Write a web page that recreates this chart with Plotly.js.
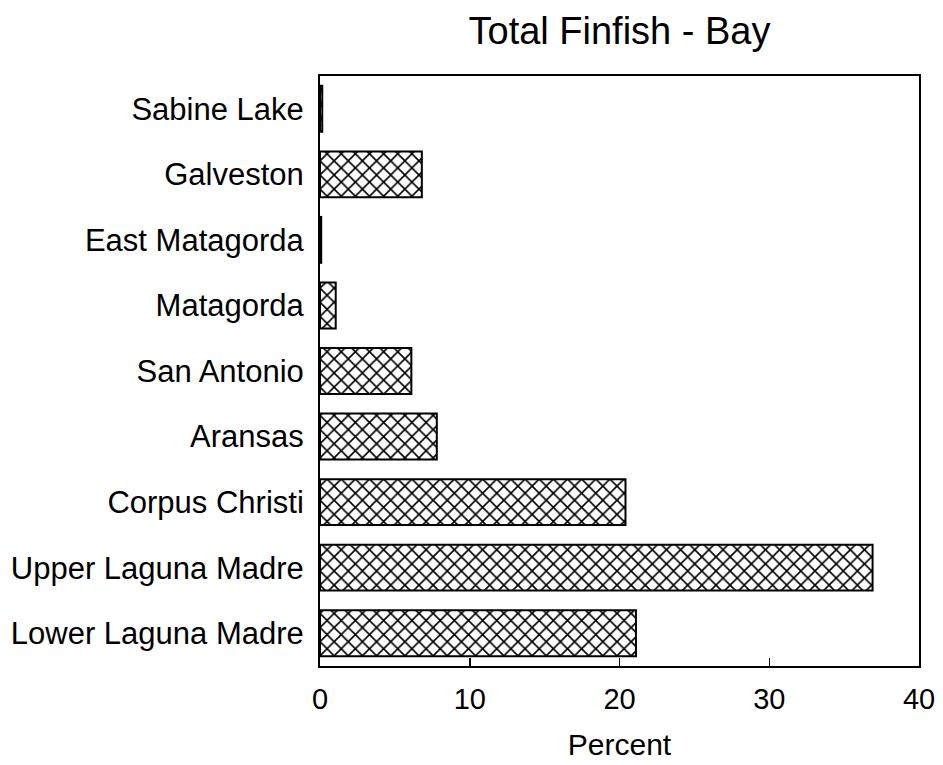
<!DOCTYPE html>
<html>
<head>
<meta charset="utf-8">
<script src="https://cdn.plot.ly/plotly-3.0.1.min.js"></script>
<style>html,body{margin:0;padding:0;background:#fff;}#chart{width:943px;height:765px;}</style>
</head>
<body>
<div id="chart"></div>
<script>
var categories = ["Sabine Lake", "Galveston", "East Matagorda", "Matagorda", "San Antonio", "Aransas", "Corpus Christi", "Upper Laguna Madre", "Lower Laguna Madre"];
var percentValues = [0.15, 6.8, 0.08, 1.05, 6.1, 7.8, 20.4, 36.9, 21.1];
var xTickValues = [0, 10, 20, 30, 40];
var xTickLabels = ["0", "10", "20", "30", "40"];

var FONT = "Liberation Sans, Arial, Helvetica, sans-serif";

var trace = {
  type: "bar",
  orientation: "h",
  y: categories,
  x: percentValues,
  width: 0.7,
  marker: {
    color: "#ffffff",
    line: {color: "#000000", width: 2},
    pattern: {shape: "x", size: 10, solidity: 0.3, fgcolor: "#000000", bgcolor: "#ffffff", fillmode: "replace"}
  },
  hoverinfo: "x+y"
};

var layout = {
  width: 943,
  height: 765,
  paper_bgcolor: "#ffffff",
  plot_bgcolor: "#ffffff",
  margin: {l: 320, r: 24, t: 76, b: 99},
  showlegend: false,
  title: {
    text: "Total Finfish - Bay",
    font: {family: FONT, size: 38, color: "#000"},
    x: 0.5, xref: "paper", xanchor: "center",
    y: 1 - 31 / 765, yref: "container", yanchor: "middle"
  },
  xaxis: {
    range: [0, 40],
    tickmode: "array",
    tickvals: xTickValues,
    ticktext: xTickLabels,
    ticks: "inside",
    ticklen: 8,
    tickwidth: 1.5,
    tickcolor: "#000",
    showline: true,
    linecolor: "#000",
    linewidth: 2,
    mirror: true,
    showgrid: false,
    zeroline: false,
    ticklabelstandoff: 6,
    tickfont: {family: FONT, size: 29, color: "#000"},
    title: {text: "Percent", font: {family: FONT, size: 30, color: "#000"}, standoff: 20}
  },
  yaxis: {
    type: "category",
    autorange: "reversed",
    ticks: "",
    showline: true,
    linecolor: "#000",
    linewidth: 2,
    mirror: true,
    showgrid: false,
    zeroline: false,
    ticklabelstandoff: 8,
    tickfont: {family: FONT, size: 31, color: "#000"}
  }
};

Plotly.newPlot("chart", [trace], layout, {displayModeBar: false, staticPlot: true});
</script>
</body>
</html>
